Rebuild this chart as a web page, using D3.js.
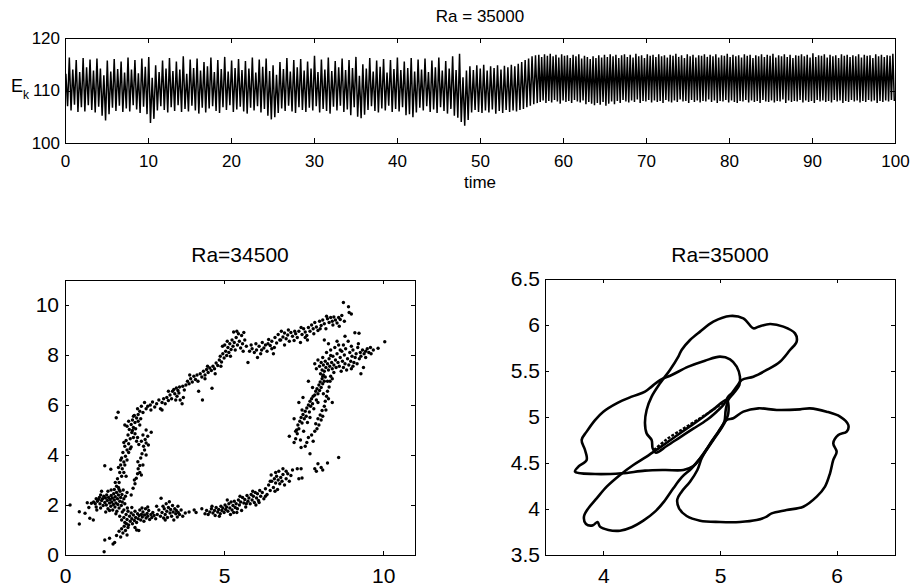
<!DOCTYPE html>
<html>
<head>
<meta charset="utf-8">
<script src="https://cdn.jsdelivr.net/npm/d3@7"></script>
<style>
  html, body { margin: 0; padding: 0; background: #fff; }
  svg { display: block; font-family: "Liberation Sans", Arial, Helvetica, sans-serif; }
  .axis path, .axis line { stroke: #000; stroke-width: 1; shape-rendering: crispEdges; }
  .axis text { fill: #000; }
</style>
</head>
<body>
<svg id="chart" width="912" height="586"></svg>
<script>
// ---------------------------------------------------------------------------
// Data

// E_k time series, given as one peak and one trough per oscillation.
// segment edges in time: early part 0-57, late (larger amplitude) part 57-100
const ekSegments = [0, 57, 100];

const ekPeaksEarly = [
  113.2, 116.3, 114.0, 115.8, 113.5, 116.2, 114.4, 115.9, 113.8, 116.1,
  114.2, 112.9, 115.7, 113.6, 116.0, 114.1, 115.5, 113.4, 116.3, 114.0,
  115.8, 113.3, 116.1, 114.5, 116.4, 112.4, 114.8, 113.5, 115.7, 114.2,
  116.2, 113.7, 115.5, 114.0, 116.5, 113.2, 115.9, 114.3, 116.1, 113.8,
  115.4, 114.6, 116.3, 113.5, 115.8, 114.1, 116.4, 113.6, 115.7, 114.3,
  116.0, 113.9, 115.6, 114.2, 116.3, 113.4, 115.9, 114.5, 116.1, 113.7,
  114.8, 113.0, 115.4, 114.1, 116.2, 113.6, 115.8, 114.4, 116.0, 113.8,
  115.5, 114.2, 116.6, 113.5, 115.9, 114.0, 116.3, 113.7, 115.6, 114.4,
  116.1, 113.9, 115.8, 114.3, 116.4, 112.8, 115.0, 114.2, 116.2, 113.6,
  115.7, 114.5, 116.0, 113.4, 115.8, 114.1, 116.3, 113.9, 115.5, 114.3,
  116.2, 113.6, 115.9, 114.0, 116.1, 113.5, 115.7, 114.4, 116.3, 113.8,
  115.6, 114.2, 116.5, 113.9, 117.0, 112.5, 113.8, 114.6, 113.9, 114.8,
  114.2, 114.9, 113.8, 114.6, 114.3, 114.8, 114.0, 114.7, 114.4, 114.9,
  114.6, 115.1, 115.4, 115.8, 116.1, 116.5, 116.7
];

const ekTroughsEarly = [
  107.0, 106.2, 107.3, 105.9, 106.8, 106.0, 107.2, 106.3, 105.8, 106.9,
  105.2, 104.3, 105.5, 106.7, 106.1, 107.1, 105.9, 106.6, 106.0, 107.2,
  106.4, 105.7, 106.9, 105.5, 103.8, 104.6, 106.2, 107.0, 106.3, 105.8,
  106.8, 106.1, 107.2, 105.9, 106.5, 106.0, 107.1, 106.2, 105.6, 106.7,
  105.8, 106.6, 107.0, 106.1, 105.7, 106.8, 106.3, 107.2, 105.9, 106.4,
  106.9, 106.0, 105.6, 106.7, 106.2, 107.0, 105.8, 106.5, 105.2, 104.5,
  104.9, 105.7, 106.6, 106.1, 107.1, 106.0, 105.7, 106.8, 106.3, 105.9,
  106.7, 106.2, 107.0, 105.8, 106.5, 106.1, 105.6, 106.9, 106.2, 107.1,
  105.9, 106.4, 105.3, 106.8, 105.0, 104.7, 105.4, 106.3, 107.0, 106.1,
  105.8, 106.6, 106.2, 107.1, 105.9, 106.5, 106.0, 106.8, 105.3, 105.5,
  104.9, 105.8, 106.7, 106.2, 107.0, 105.9, 106.4, 105.7, 106.8, 106.1,
  105.6, 106.5, 105.2, 104.8, 104.0, 103.3, 104.4, 105.8, 106.3, 105.9,
  105.7, 106.2, 105.8, 106.4, 105.6, 106.1, 105.7, 106.3, 105.9, 106.2,
  106.0, 106.3, 106.5, 106.8, 107.1, 107.4, 107.6
];

const ekPeaksLate = [
  116.8, 116.4, 116.9, 116.6, 117.0, 116.5, 116.8, 116.3, 116.9, 116.6,
  116.7, 116.2, 116.8, 116.5, 116.9, 116.1, 116.6, 116.4, 116.0, 116.5,
  116.2, 116.7, 116.3, 116.8, 116.4, 116.9, 116.5, 116.8, 116.2, 116.7,
  116.9, 116.4, 116.8, 116.3, 117.0, 116.5, 116.7, 116.2, 116.9, 116.6,
  116.8, 116.4, 116.9, 116.5, 116.7, 116.3, 116.8, 116.6, 117.0, 116.4,
  116.7, 116.2, 116.9, 116.5, 116.8, 116.3, 116.7, 116.6, 116.9, 116.4,
  116.8, 116.5, 116.9, 116.3, 116.7, 116.6, 117.0, 116.4, 116.8, 116.5,
  116.7, 116.3, 116.9, 116.6, 116.8, 116.2, 116.7, 116.5, 116.9, 116.4,
  116.8, 116.6, 117.0, 116.3, 116.7, 116.5, 116.9, 116.4, 116.8, 116.2,
  116.7, 116.6, 116.9, 116.5, 116.8, 116.3, 117.1, 116.4, 116.7, 116.6,
  116.9, 116.3, 116.8, 116.5, 116.7, 116.2, 116.9, 116.6, 116.8, 116.4,
  116.7, 116.5, 116.9, 116.3, 116.8, 116.6, 116.7, 116.2, 116.9, 116.5,
  116.8, 116.4, 116.7, 116.6, 117.0
];

const ekTroughsLate = [
  107.8, 108.1, 107.6, 108.0, 107.7, 108.2, 107.9, 107.5, 108.1, 107.8,
  108.0, 107.6, 108.2, 107.9, 107.7, 108.1, 107.4, 107.8, 107.5, 107.2,
  107.6, 107.3, 107.8, 107.1, 107.5, 107.9, 107.4, 108.0, 107.6, 108.2,
  107.9, 107.7, 108.1, 107.8, 108.3, 107.6, 108.0, 107.9, 108.2, 107.7,
  108.1, 107.8, 108.0, 107.6, 108.2, 107.9, 107.7, 108.1, 107.8, 108.3,
  107.9, 108.0, 107.6, 108.2, 107.8, 108.1, 107.7, 108.0, 107.9, 108.3,
  107.8, 108.1, 107.6, 108.0, 107.9, 108.2, 107.7, 108.1, 107.8, 107.6,
  108.0, 107.9, 108.2, 107.7, 108.1, 107.8, 108.0, 107.6, 108.2, 107.9,
  107.8, 108.1, 107.7, 108.0, 107.9, 108.3, 107.6, 108.1, 107.8, 108.0,
  107.9, 108.2, 107.7, 108.1, 107.8, 108.0, 107.6, 108.2, 107.9, 108.1,
  107.8, 108.0, 107.7, 108.2, 107.9, 108.1, 107.6, 108.0, 107.8, 108.2,
  107.9, 108.1, 107.7, 108.0, 107.8, 108.2, 107.9, 108.1, 107.6, 108.0,
  107.8, 108.1, 107.9, 108.2, 108.0
];

const timeTicks = [0, 10, 20, 30, 40, 50, 60, 70, 80, 90, 100];
const ekTicks = [100, 110, 120];

// Ra=34500 return map (scattered points)
const ra34500Points = [
  // left dense cluster
  [0.16,2.00],[0.45,1.73],[0.45,1.24],[0.63,1.67],[0.70,2.09],[0.78,1.47],[0.83,2.07],[0.89,1.40],
  [0.90,2.12],[0.95,2.05],[0.98,1.92],[1.02,2.15],[1.05,2.22],[1.08,2.30],[1.10,2.05],[1.12,1.88],
  [1.15,2.18],[1.18,2.25],[1.20,1.98],[1.22,2.35],[1.25,2.10],[1.27,2.28],[1.30,2.00],[1.31,2.40],
  [1.33,2.18],[1.35,1.85],[1.37,2.30],[1.40,2.08],[1.42,2.22],[1.44,1.95],[1.45,2.38],[1.47,2.12],
  [1.49,2.28],[1.50,1.80],[1.52,2.02],[1.53,2.45],[1.55,2.20],[1.57,1.92],[1.58,2.33],[1.60,2.08],
  [1.62,2.50],[1.63,1.75],[1.65,2.25],[1.66,2.02],[1.68,2.40],[1.70,1.88],[1.72,2.15],[1.73,2.55],
  [1.75,2.30],[1.77,1.98],[1.79,2.42],[1.80,2.12],[1.83,2.60],[1.85,2.25],[1.88,2.05],[1.90,2.35],
  [1.55,2.62],[1.68,2.70],[1.40,1.78],[1.28,1.72],[1.12,2.40],[0.98,2.25],[1.60,1.65],[1.85,1.80],
  [1.15,2.55],[1.35,2.55],[1.95,2.50],[1.00,1.80],[0.75,1.90],[1.45,2.60],
  // lower-left arm and second cluster
  [1.23,0.13],[1.25,0.60],[1.40,0.67],[1.51,0.44],[1.56,0.50],[1.62,0.78],[1.70,0.95],[1.75,0.72],
  [1.78,1.05],[1.82,0.88],[1.86,1.15],[1.90,0.98],[1.93,1.25],[1.95,0.80],[1.98,1.10],
  [1.72,1.55],[1.78,1.40],[1.80,1.72],[1.85,1.50],[1.88,1.30],[1.92,1.62],[1.95,1.42],[1.98,1.75],
  [2.00,1.20],[2.03,1.55],[2.05,1.35],[2.08,1.68],[2.10,1.45],[2.12,1.25],[2.15,1.60],[2.18,1.38],
  [2.20,1.75],[2.22,1.50],[2.25,1.30],[2.28,1.65],[2.30,1.45],[2.33,1.58],[2.35,1.80],[2.38,1.40],
  [2.40,1.62],[2.43,1.52],[2.45,1.72],[2.48,1.35],[2.50,1.60],[2.53,1.85],[2.55,1.48],[2.58,1.66],
  [2.60,1.55],[2.63,1.78],[2.66,1.42],[2.70,1.62],[2.73,1.50],[2.76,1.70],[2.80,1.58],[2.85,1.45],
  [2.90,1.62],[2.20,1.10],[2.32,0.98],[2.10,1.90],[1.96,1.88],[2.42,1.88],[2.60,1.92],[2.25,1.00],
  // lower branch
  [2.95,1.80],[3.00,1.55],[3.02,2.27],[3.05,1.70],[3.08,1.95],[3.10,1.48],[3.12,1.85],[3.15,1.62],
  [3.18,2.05],[3.20,1.75],[3.22,1.50],[3.25,1.90],[3.28,2.13],[3.30,1.68],[3.32,1.82],[3.35,1.55],
  [3.38,1.98],[3.40,1.72],[3.42,1.40],[3.45,1.85],[3.48,1.65],[3.50,1.78],[3.53,1.52],[3.56,1.70],
  [3.60,1.62],[3.65,1.80],[3.70,1.55],[3.78,1.68],[3.90,1.72],[4.06,1.80],[4.12,1.70],[4.30,1.85],
  [4.45,1.78],[4.50,1.62],[4.55,1.72],[4.60,1.85],[4.65,1.68],[4.70,1.78],[4.72,1.58],[4.75,1.90],
  [4.80,1.72],[4.83,1.82],[4.88,1.65],[4.90,1.95],[4.93,1.78],[4.96,1.88],[5.00,1.70],[5.03,2.00],
  [5.05,1.82],[5.08,1.92],[5.12,1.75],[5.15,2.05],[5.18,1.88],[5.22,2.12],[5.25,1.80],[5.28,1.98],
  [5.32,2.15],[5.35,1.90],[5.38,2.05],[5.42,1.85],[5.45,2.20],[5.48,2.00],[5.52,2.12],[5.55,1.78],
  [5.58,2.30],[5.62,2.08],[5.65,2.22],[5.68,1.92],[5.72,2.38],[5.75,2.15],[5.78,2.28],[5.82,2.05],
  [5.85,2.42],[5.88,2.20],[5.92,2.35],[5.95,2.10],[5.98,2.50],[6.02,2.28],[6.05,2.45],[6.08,2.18],
  [6.12,2.58],[6.15,2.35],[6.20,2.50],[6.25,2.25],[6.30,2.65],[6.35,2.42],[6.40,2.80],[6.45,2.58],
  [6.48,3.20],[6.50,2.95],[6.55,2.70],[6.58,3.05],[6.62,2.88],[6.65,3.15],[6.68,2.62],[6.70,3.00],
  [6.72,3.35],[6.75,2.85],[6.78,3.10],[6.82,2.95],[6.85,3.22],[6.90,2.80],[6.95,3.05],[7.00,3.25],
  [7.05,2.95],[7.10,3.18],[7.30,3.45],[7.35,3.05],[7.42,3.45],[7.45,3.08],[7.95,3.65],[8.05,3.50],
  [8.10,3.40],[8.25,3.68],[8.60,3.90],[5.20,1.62],[4.85,1.55],[5.40,1.70],[6.00,2.00],[6.60,2.55],
  [2.88,1.95],[3.15,1.40],[3.55,1.95],[4.40,1.65],[4.62,1.95],[5.10,2.20],[5.30,1.70],[5.50,2.35],
  [5.70,2.05],[5.90,2.55],[6.10,2.10],[6.30,2.35],[6.45,2.95],[6.62,3.30],[6.85,3.45],[7.15,3.40],
  [6.95,3.35],
  // left rising strands
  [1.62,2.75],[1.70,2.90],[1.65,3.05],[1.78,3.15],[1.72,3.30],[1.80,3.45],[1.75,3.60],[1.85,3.72],
  [1.78,3.88],[1.90,3.95],[1.82,4.10],[1.95,4.20],[1.88,4.35],[2.00,4.45],[1.92,4.58],[2.05,4.65],
  [1.98,4.80],[2.10,4.90],[2.02,5.02],[2.15,5.10],[2.08,5.22],[2.20,5.30],[2.12,5.40],[2.25,5.48],
  [2.18,5.58],[2.30,5.62],[2.35,5.75],[2.28,5.85],[2.40,5.95],[1.95,5.15],[2.22,5.05],[2.30,5.35],
  [2.15,4.70],[2.25,4.55],[2.08,4.32],[2.20,4.85],[1.75,3.80],[1.68,3.50],[2.00,4.10],[2.12,4.98],
  [2.35,5.20],[2.28,4.70],[2.32,4.42],[1.88,3.60],[1.70,2.62],
  [1.58,2.90],[1.85,3.30],[1.95,3.80],[2.05,4.25],[1.85,4.50],[2.15,5.55],[2.38,5.45],[2.00,5.35],
  [2.40,3.20],[2.55,4.00],[2.40,4.55],[1.92,3.15],
  [2.08,2.40],[2.14,2.67],[2.20,2.85],[2.24,3.07],[2.28,3.25],[2.30,3.45],[2.29,3.73],[2.35,3.58],
  [2.38,3.88],[2.45,3.60],[2.42,4.05],[2.50,4.20],[2.47,4.35],[2.55,4.48],[2.52,4.62],[2.60,4.75],
  [2.62,4.40],[2.45,4.80],[2.18,3.00],[2.35,3.30],
  [1.25,3.57],[1.44,3.43],[1.61,5.49],[1.67,5.71],[2.71,4.91],[1.88,5.20],[2.55,5.00],[2.70,5.80],
  // upper branch
  [2.45,5.70],[2.50,6.10],[2.55,5.85],[2.60,5.95],[2.68,6.00],[2.75,6.12],[2.82,5.92],[2.88,6.05],
  [2.95,6.20],[3.00,5.85],[3.05,6.10],[3.10,6.25],[3.15,6.05],[3.20,6.30],[3.25,6.18],[3.30,6.40],
  [3.35,6.25],[3.38,6.55],[3.42,6.62],[3.45,6.45],[3.50,6.68],[3.52,6.35],[3.55,6.58],[3.58,6.48],
  [3.60,6.72],[3.62,6.20],[3.68,6.05],[3.72,6.30],[3.80,6.80],[3.85,6.95],[3.90,6.85],[3.95,7.05],
  [4.00,6.92],[4.05,7.15],[4.10,7.02],[4.15,7.20],[4.20,6.55],[4.25,7.25],[4.30,7.12],[4.32,6.20],
  [4.35,7.35],[4.40,7.20],[4.45,7.42],[4.50,7.30],[4.55,7.48],[4.62,6.67],[4.60,7.38],[4.65,7.55],
  [4.70,7.45],[4.75,7.68],[4.80,7.58],[4.85,7.80],[4.88,7.95],[4.92,7.72],[4.96,8.05],[5.00,7.88],
  [5.05,8.15],[5.08,7.98],[5.12,8.30],[5.15,8.10],[5.18,8.45],[5.22,8.22],[5.25,8.60],[5.28,8.35],
  [5.30,8.92],[5.32,8.50],[5.35,8.20],[5.38,8.70],[5.42,8.40],[5.45,8.85],[5.48,8.55],[5.52,8.28],
  [5.55,8.78],[5.58,8.45],[5.62,8.90],[5.65,8.60],[5.70,8.35],[5.75,7.70],[5.80,8.15],[5.88,8.25],
  [5.95,8.10],[6.02,8.20],[6.10,8.35],[6.15,8.05],[6.20,8.50],[6.25,8.28],[6.30,8.40],[6.35,8.15],
  [6.40,8.62],[6.45,8.38],[6.50,8.55],[6.55,8.05],[6.60,8.70],[6.65,8.48],[6.70,8.82],[6.75,8.60],
  [6.80,8.95],[6.85,8.72],[6.90,8.88],[6.95,8.65],[7.00,8.80],[7.05,8.55],[7.10,8.90],[7.15,8.75],
  [7.20,8.58],[7.25,8.85],[7.30,8.70],[7.35,8.95],[7.40,8.50],[7.45,8.82],[7.50,9.05],[7.55,8.92],
  [7.60,8.78],[7.65,9.10],[7.70,8.95],[7.75,9.20],[7.80,9.05],[7.85,9.30],[7.90,9.12],[7.95,8.98],
  [8.00,9.35],[8.05,9.18],[8.10,9.40],[8.15,9.25],[8.20,9.05],[8.25,9.45],[8.30,9.30],[8.35,9.50],
  [8.40,9.35],[8.45,9.52],[8.50,9.40],[8.55,9.28],[8.60,9.50],[8.65,9.42],[8.75,10.10],[8.78,9.35],
  [8.91,9.93],[8.93,9.70],[9.00,9.64],[7.55,8.70],[6.50,8.25],[6.05,7.90],[5.10,8.55],[4.95,8.35],
  [4.40,7.05],[3.75,6.60],[8.15,8.60],
  [3.05,5.80],[3.25,6.55],[3.48,6.20],[3.70,6.75],[3.92,7.20],[4.18,6.95],[4.48,7.55],[4.72,7.25],
  [4.90,7.55],[5.02,8.40],[5.20,7.95],[5.40,8.95],[5.60,8.15],[5.85,8.40],[6.00,8.45],[6.18,8.20],
  [6.38,8.45],[6.58,8.30],[6.78,8.60],[7.02,9.00],[7.22,8.95],[7.42,9.10],[7.62,8.60],[7.82,8.85],
  [8.02,9.05],[8.22,9.55],[8.42,9.20],[8.62,9.15],[8.70,9.58],[6.90,8.40],
  // right rising strands
  [7.05,4.75],[7.20,4.50],[7.25,4.65],[7.28,5.00],[7.30,4.85],[7.32,5.20],[7.35,5.05],[7.38,5.35],
  [7.40,4.60],[7.42,5.50],[7.45,5.28],[7.48,5.62],[7.50,4.95],[7.52,5.45],[7.55,5.75],[7.58,5.55],
  [7.60,5.88],[7.62,5.30],[7.65,6.00],[7.68,5.72],[7.70,6.15],[7.72,5.95],[7.75,6.25],[7.78,6.05],
  [7.80,6.35],[7.82,5.85],[7.85,6.40],[7.88,6.55],[7.90,6.20],[7.92,6.65],[7.95,6.45],[7.98,6.80],
  [8.00,6.58],[8.02,6.92],[8.05,6.70],[8.08,7.05],[8.10,6.85],[8.12,7.20],[8.15,6.95],[8.18,7.12],
  [7.42,4.30],[7.60,4.50],[7.75,4.80],[7.80,4.55],[7.85,4.95],[7.88,5.25],[7.92,5.05],[7.95,5.45],
  [7.98,5.20],[8.02,5.60],[8.05,5.40],[8.08,5.78],[8.10,5.55],[8.15,5.95],[8.18,6.15],[8.20,5.80],
  [8.22,6.35],[8.25,6.55],[8.28,6.25],[8.30,6.72],[8.33,6.95],[8.35,7.15],[7.55,4.35],[7.70,4.05],
  [7.85,3.45],[7.90,3.35],[7.65,6.95],[8.40,6.10],[7.35,6.10],[7.20,5.45],[7.65,4.70],
  [7.25,4.95],[7.45,5.80],[7.70,5.50],[7.95,6.10],[8.12,6.45],[7.48,6.30],[8.25,6.95],[7.78,6.70],
  [8.40,7.05],
  // right cluster
  [7.85,7.65],[7.90,7.45],[7.95,7.80],[8.00,7.55],[8.03,7.25],[8.05,7.70],[8.08,7.40],[8.10,7.90],
  [8.12,7.60],[8.15,7.35],[8.18,7.75],[8.20,7.50],[8.22,8.10],[8.25,7.65],[8.28,7.40],[8.30,7.85],
  [8.32,7.55],[8.35,8.20],[8.38,7.70],[8.40,7.45],[8.42,7.95],[8.45,7.60],[8.48,8.30],[8.50,7.80],
  [8.52,7.50],[8.55,8.05],[8.58,7.70],[8.60,8.40],[8.62,7.55],[8.65,7.90],[8.68,7.35],[8.70,8.15],
  [8.72,7.75],[8.75,7.50],[8.78,8.00],[8.80,7.65],[8.82,8.25],[8.85,7.40],[8.88,7.85],[8.90,8.55],
  [8.92,7.60],[8.95,8.10],[8.98,7.75],[9.00,7.45],[9.02,7.95],[9.05,8.20],[9.08,7.70],[9.11,8.89],
  [9.12,7.90],[9.15,8.05],[9.18,7.65],[9.20,8.30],[9.24,8.87],[9.25,7.85],[9.28,8.10],[9.30,7.95],
  [9.35,8.20],[9.38,7.50],[9.40,8.05],[9.45,8.15],[9.50,8.25],[9.55,8.10],[9.60,8.30],[9.69,8.20],
  [9.84,8.27],[10.05,8.53],[8.80,8.75],[8.55,8.55],[8.28,8.45],[9.30,7.25],
  [8.10,7.15],[8.45,7.30],[8.75,8.40],[9.05,7.55],[9.22,8.45],[9.45,7.90],[9.62,8.05],[8.35,7.98],
  [8.65,8.20],[9.00,8.35]
];
const ra34500XTicks = [0, 5, 10];
const ra34500YTicks = [0, 2, 4, 6, 8, 10];

// Ra=35000 phase portrait, traced as closed lobes
const lobeUpper = [
  [5.071,5.221],[5.100,5.257],[5.143,5.330],[5.186,5.402],[5.286,5.438],[5.400,5.511],[5.514,5.601],
  [5.600,5.728],[5.657,5.819],[5.643,5.909],[5.543,5.982],[5.429,6.011],[5.329,5.982],[5.286,5.964],
  [5.200,6.072],[5.086,6.098],[4.943,6.036],[4.829,5.928],[4.743,5.837],[4.671,5.728],[4.643,5.656],
  [4.571,5.511],[4.486,5.366],[4.414,5.221],[4.371,5.076],[4.357,4.931],[4.371,4.822],[4.414,4.750],
  [4.423,4.659],[4.451,4.612],[4.543,4.685],[4.657,4.779],[4.771,4.873],[4.886,4.967],[4.971,5.058],
  [5.029,5.130]
];
const lobeLeft = [
  [3.757,4.406],[3.786,4.460],[3.857,4.533],[3.843,4.641],[3.814,4.750],[3.857,4.841],[3.929,4.967],
  [4.000,5.058],[4.114,5.149],[4.243,5.221],[4.357,5.275],[4.414,5.330],[4.486,5.402],[4.586,5.457],
  [4.729,5.547],[4.871,5.612],[5.000,5.656],[5.086,5.627],[5.143,5.547],[5.171,5.438],[5.166,5.348],
  [5.120,5.264],[5.071,5.185],[5.049,5.076],[5.037,4.949],[4.986,4.841],[4.900,4.678],[4.829,4.551],
  [4.771,4.467],[4.686,4.424],[4.529,4.424],[4.357,4.417],[4.157,4.388],[3.929,4.380]
];
const lobeLowerLeft = [
  [5.057,5.185],[4.943,5.083],[4.829,4.975],[4.714,4.873],[4.600,4.772],[4.486,4.670],[4.371,4.569],
  [4.257,4.478],[4.143,4.370],[4.029,4.243],[3.943,4.116],[3.871,4.007],[3.834,3.917],[3.851,3.837],
  [3.909,3.822],[3.951,3.859],[3.971,3.808],[4.043,3.772],[4.143,3.764],[4.243,3.801],[4.343,3.873],
  [4.443,3.971],[4.520,4.080],[4.600,4.225],[4.671,4.344],[4.757,4.442],[4.843,4.569],[4.943,4.750],
  [5.029,4.913],[5.071,5.040]
];
const lobeLowerRight = [
  [5.057,4.967],[5.114,4.986],[5.200,5.058],[5.329,5.094],[5.486,5.076],[5.686,5.083],[5.771,5.094],
  [5.914,5.058],[6.029,5.004],[6.100,4.913],[6.086,4.841],[6.014,4.804],[5.971,4.714],[6.000,4.623],
  [5.971,4.533],[5.943,4.388],[5.900,4.243],[5.829,4.134],[5.714,4.025],[5.571,3.989],[5.443,3.953],
  [5.400,3.917],[5.314,3.880],[5.171,3.859],[5.000,3.859],[4.829,3.873],[4.714,3.924],[4.649,4.007],
  [4.634,4.105],[4.671,4.188],[4.743,4.297],[4.806,4.424],[4.843,4.551],[4.914,4.707],[4.994,4.851]
];
const crossingPath = [
  [4.434,4.641],[4.543,4.757],[4.714,4.895],[4.886,5.033],[5.029,5.156]
];
const ra35000Ticks = [4, 5, 6];
const ra35000YTicks = [3.5, 4, 4.5, 5, 5.5, 6, 6.5];

// ---------------------------------------------------------------------------
// Drawing

const svg = d3.select('#chart');
const FONT = '"Liberation Sans", Arial, Helvetica, sans-serif';

// Draw a MATLAB style box with inward ticks on all four sides
function drawFrame(g, x, y, cfg) {
  const w = x.range()[1], h = y.range()[0];

  const styleAxis = sel => sel.attr('font-size', cfg.fontSize).attr('font-family', FONT)
    .classed('axis', true);

  g.append('g').attr('transform', `translate(0,${h})`)
    .call(d3.axisBottom(x).tickValues(cfg.xTicks).tickSizeInner(-cfg.tick).tickSizeOuter(0)
      .tickPadding(cfg.xPad).tickFormat(d3.format('~g')))
    .call(styleAxis);
  g.append('g')
    .call(d3.axisTop(x).tickValues(cfg.xTicks).tickSizeInner(-cfg.tick).tickSizeOuter(0).tickFormat(''))
    .call(styleAxis);
  g.append('g')
    .call(d3.axisLeft(y).tickValues(cfg.yTicks).tickSizeInner(-cfg.tick).tickSizeOuter(0)
      .tickPadding(cfg.yPad).tickFormat(d3.format('~g')))
    .call(styleAxis);
  g.append('g').attr('transform', `translate(${w},0)`)
    .call(d3.axisRight(y).tickValues(cfg.yTicks).tickSizeInner(-cfg.tick).tickSizeOuter(0).tickFormat(''))
    .call(styleAxis);

  g.append('rect')
    .attr('width', w).attr('height', h)
    .attr('fill', 'none').attr('stroke', '#000').attr('stroke-width', 1)
    .attr('shape-rendering', 'crispEdges');
}

// --- top panel: E_k against time -----------------------------------------
{
  const left = 65, top = 38, w = 830, h = 105;
  const x = d3.scaleLinear().domain([0, 100]).range([0, w]);
  const y = d3.scaleLinear().domain([100, 120]).range([h, 0]);
  const g = svg.append('g').attr('transform', `translate(${left},${top})`);

  // alternate peak / trough inside each segment
  const series = [];
  [[ekPeaksEarly, ekTroughsEarly], [ekPeaksLate, ekTroughsLate]].forEach(([pk, tr], s) => {
    const t0 = ekSegments[s], dt = (ekSegments[s + 1] - t0) / pk.length;
    pk.forEach((p, i) => {
      series.push([t0 + (i + 0.25) * dt, p]);
      series.push([t0 + (i + 0.75) * dt, tr[i]]);
    });
  });

  g.append('path')
    .datum(series)
    .attr('fill', 'none')
    .attr('stroke', '#000')
    .attr('stroke-width', 1.5)
    .attr('d', d3.line().x(d => x(d[0])).y(d => y(d[1])));

  drawFrame(g, x, y, { xTicks: timeTicks, yTicks: ekTicks, tick: 5, fontSize: 17, xPad: 12, yPad: 5 });

  svg.append('text').attr('x', left + w / 2).attr('y', 21.5).attr('text-anchor', 'middle')
    .attr('font-size', 17).attr('font-family', FONT).text('Ra = 35000');
  svg.append('text').attr('x', left + w / 2).attr('y', 188).attr('text-anchor', 'middle')
    .attr('font-size', 17).attr('font-family', FONT).text('time');

  const yl = svg.append('text').attr('x', 11).attr('y', 92)
    .attr('font-size', 18).attr('font-family', FONT);
  yl.append('tspan').text('E');
  yl.append('tspan').attr('font-size', 12).attr('dy', 7).text('k');
}

// --- bottom left: Ra=34500 scatter ----------------------------------------
{
  const left = 65, top = 280, w = 350, h = 275;
  const x = d3.scaleLinear().domain([0, 11]).range([0, w]);
  const y = d3.scaleLinear().domain([0, 11]).range([h, 0]);
  const g = svg.append('g').attr('transform', `translate(${left},${top})`);

  g.selectAll('circle.pt')
    .data(ra34500Points)
    .enter()
    .append('circle')
    .attr('class', 'pt')
    .attr('cx', d => x(d[0]))
    .attr('cy', d => y(d[1]))
    .attr('r', 1.7)
    .attr('fill', '#000');

  drawFrame(g, x, y, { xTicks: ra34500XTicks, yTicks: ra34500YTicks, tick: 4, fontSize: 21, xPad: 13, yPad: 6 });

  svg.append('text').attr('x', left + w / 2).attr('y', 262).attr('text-anchor', 'middle')
    .attr('font-size', 21).attr('font-family', FONT).text('Ra=34500');
}

// --- bottom right: Ra=35000 phase portrait --------------------------------
{
  const left = 545, top = 279, w = 350, h = 276;
  const x = d3.scaleLinear().domain([3.5, 6.5]).range([0, w]);
  const y = d3.scaleLinear().domain([3.5, 6.5]).range([h, 0]);
  const g = svg.append('g').attr('transform', `translate(${left},${top})`);

  const closed = d3.line().x(d => x(d[0])).y(d => y(d[1])).curve(d3.curveCatmullRomClosed);
  const open = d3.line().x(d => x(d[0])).y(d => y(d[1])).curve(d3.curveCatmullRom);

  g.selectAll('path.lobe')
    .data([lobeUpper, lobeLeft, lobeLowerLeft, lobeLowerRight])
    .enter()
    .append('path')
    .attr('class', 'lobe')
    .attr('fill', 'none')
    .attr('stroke', '#000')
    .attr('stroke-width', 2.6)
    .attr('stroke-linejoin', 'round')
    .attr('d', closed);

  g.append('path')
    .datum(crossingPath)
    .attr('fill', 'none')
    .attr('stroke', '#000')
    .attr('stroke-width', 2.4)
    .attr('stroke-dasharray', '3,1.5')
    .attr('d', open);

  drawFrame(g, x, y, { xTicks: ra35000Ticks, yTicks: ra35000YTicks, tick: 4, fontSize: 21, xPad: 13, yPad: 5 });

  svg.append('text').attr('x', left + w / 2).attr('y', 262).attr('text-anchor', 'middle')
    .attr('font-size', 21).attr('font-family', FONT).text('Ra=35000');
}
</script>
</body>
</html>
